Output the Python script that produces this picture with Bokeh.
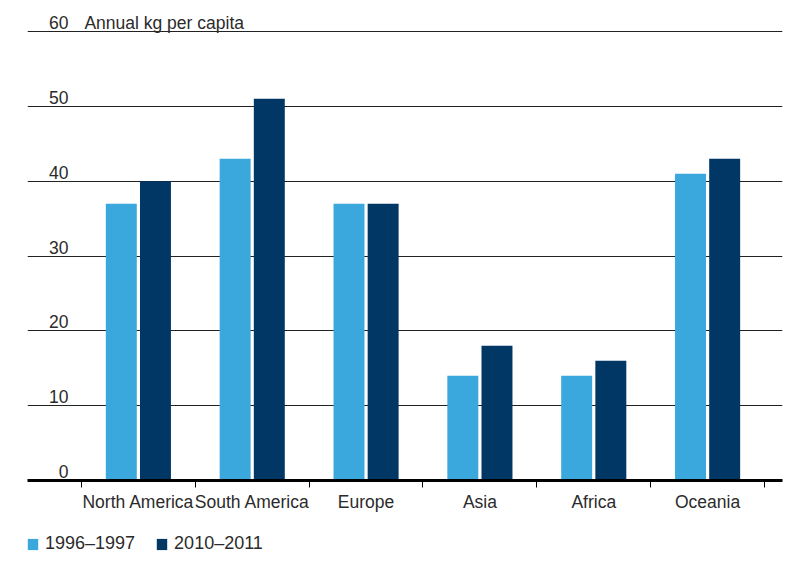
import numpy as np
from bokeh.plotting import figure
from bokeh.layouts import column
from bokeh.models import Range1d, FixedTicker, ColumnDataSource, Legend, LegendItem
from bokeh.core.properties import value
from bokeh.embed import file_html
from bokeh.resources import INLINE

regions = ["North America", "South America", "Europe", "Asia", "Africa", "Oceania"]
series_1996 = [37, 43, 37, 14, 14, 41]
series_2010 = [40, 51, 37, 18, 16, 43]
y_ticks = [0, 10, 20, 30, 40, 50, 60]
y_tick_labels = ["0", "10", "20", "30", "40", "50", "60"]
unit_label = "Annual kg per capita"
legend_labels = ["1996\u20131997", "2010\u20132011"]

LIGHT = "#3aa8dc"
DARK = "#003764"
TEXT = "#2b2b2b"
FONT = "Liberation Sans"

centers = np.arange(len(regions)) + 0.5
off = 0.15
bw = 0.272

p = figure(width=785, height=520, output_backend="svg", toolbar_location=None,
           x_range=Range1d(-0.474, 6.158), y_range=Range1d(0, 62.81),
           min_border_left=27, min_border_right=3, min_border_top=10, min_border_bottom=40)
p.outline_line_color = None
p.background_fill_color = "white"
p.border_fill_color = "white"

src1 = ColumnDataSource(dict(x=centers - off, top=series_1996))
src2 = ColumnDataSource(dict(x=centers + off, top=series_2010))
p.vbar(x="x", top="top", width=bw, source=src1, fill_color=LIGHT, line_color=None)
p.vbar(x="x", top="top", width=bw, source=src2, fill_color=DARK, line_color=None)

# grid
p.xgrid.visible = False
p.ygrid.ticker = FixedTicker(ticks=y_ticks[1:])
p.ygrid.grid_line_color = "#222222"
p.ygrid.grid_line_width = 1

p.yaxis.visible = False

xa = p.xaxis[0]
xa.ticker = FixedTicker(ticks=list(centers), minor_ticks=list(np.arange(len(regions) + 1)))
xa.major_label_overrides = {float(c): r for c, r in zip(centers, regions)}
xa.major_tick_out = 0
xa.major_tick_in = 0
xa.minor_tick_out = 7
xa.minor_tick_in = 0
xa.minor_tick_line_color = "black"
xa.minor_tick_line_width = 1
xa.axis_line_color = "black"
xa.axis_line_width = 3
xa.major_label_standoff = 4
xa.major_label_text_font = FONT
xa.major_label_text_font_size = "17.5px"
xa.major_label_text_color = TEXT

# y tick labels drawn above gridlines
p.text(x=[-0.114] * len(y_ticks), y=y_ticks, text=y_tick_labels,
       text_align="right", text_baseline="alphabetic", y_offset=-9,
       text_font=value(FONT), text_font_size="17.5px", text_color=TEXT)
p.text(x=[0.026], y=[y_ticks[-1]], text=[unit_label],
       text_align="left", text_baseline="alphabetic", y_offset=-9,
       text_font=value(FONT), text_font_size="17.5px", text_color=TEXT)

# legend strip (dummy zero-size renderers only provide the swatches)
p2 = figure(width=785, height=45, output_backend="svg", toolbar_location=None,
            x_range=Range1d(0, 1), y_range=Range1d(0, 1),
            min_border_left=0, min_border_right=0, min_border_top=0, min_border_bottom=0)
p2.axis.visible = False
p2.grid.visible = False
p2.outline_line_color = None
l1 = p2.vbar(x=[0.5], top=[0], bottom=[0], width=0, fill_color=LIGHT, line_color=None)
l2 = p2.vbar(x=[0.5], top=[0], bottom=[0], width=0, fill_color=DARK, line_color=None)
legend = Legend(items=[LegendItem(label=legend_labels[0], renderers=[l1]),
                       LegendItem(label=legend_labels[1], renderers=[l2])],
                orientation="horizontal", location=(-1, 11),
                glyph_width=13, glyph_height=14, label_standoff=6, spacing=20,
                padding=0, margin=0, border_line_color=None, background_fill_alpha=0,
                label_text_font=FONT, label_text_font_size="18px", label_text_color=TEXT)
p2.add_layout(legend, "center")

open("out.html", "w").write(file_html(column(p, p2, spacing=0), INLINE))
